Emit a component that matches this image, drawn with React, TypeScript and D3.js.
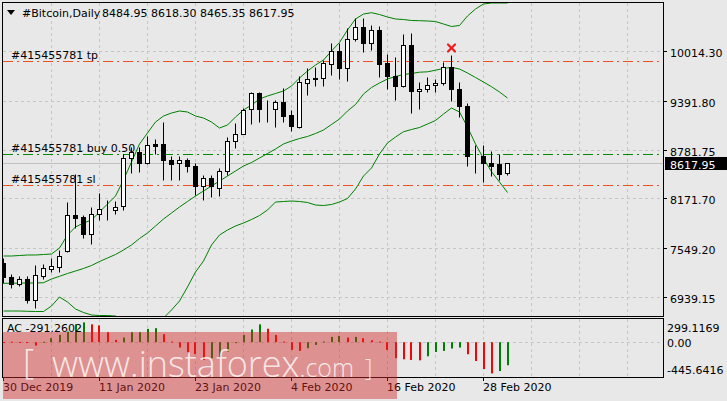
import React from 'react';
import * as d3 from 'd3';

const opens = [7372.1, 7193.7, 7110.1, 7168.7, 6910.5, 7209.9, 7293.5, 7318.4, 7518.1, 7967.1, 7942.1, 7725.1, 7974.6, 8042.0, 8033.2, 8074.4, 8673.2, 8756.8, 8615.8, 8856.6, 8856.6, 8657.0, 8615.8, 8657.0, 8582.1, 8323.9, 8432.4, 8307.7, 8516.0, 8890.3, 8981.3, 9289.5, 9489.1, 9289.5, 9289.5, 9380.5, 9214.6, 9064.9, 9613.8, 9679.9, 9671.2, 9845.9, 10004.3, 9796.0, 10162.7, 10312.4, 10112.8, 10278.7, 9854.6, 9696.2, 9571.4, 10087.9, 9514.0, 9539.0, 9588.9, 9613.8, 9804.7, 9539.0, 9330.6, 8706.9, 8706.9, 8615.8, 8598.4, 8484.95];
const highs = [7434.4, 7234.8, 7201.2, 7201.2, 7343.4, 7350.9, 7434.4, 7525.5, 8133.0, 8482.3, 7967.1, 8066.9, 8241.6, 8149.3, 8141.8, 8719.4, 8815.4, 8815.4, 8956.4, 8915.2, 9131.0, 8706.9, 8698.2, 8673.2, 8615.8, 8466.1, 8466.1, 8548.5, 8940.2, 9114.8, 9297.0, 9505.3, 9505.3, 9405.5, 9405.5, 9546.5, 9280.7, 9696.2, 9796.0, 9804.7, 9895.8, 10112.8, 10112.8, 10295.0, 10419.7, 10428.4, 10337.4, 10328.6, 9979.3, 9938.2, 10220.1, 10237.6, 9621.3, 9688.7, 9655.0, 9879.5, 9954.4, 9621.3, 9364.3, 8840.4, 8840.4, 8765.5, 8731.8, 8618.30];
const lows = [7122.6, 7051.5, 7076.4, 6869.3, 6810.7, 7168.7, 7259.8, 7251.0, 7505.0, 7800.0, 7675.2, 7609.1, 7908.5, 7899.7, 7974.6, 8033.2, 8491.1, 8507.3, 8598.4, 8723.1, 8398.8, 8398.8, 8407.5, 8507.3, 8216.6, 8149.3, 8191.7, 8207.9, 8466.1, 8806.7, 8972.6, 9106.1, 9122.3, 9131.0, 9064.9, 9131.0, 9015.0, 9050.0, 9464.1, 9580.1, 9580.1, 9713.6, 9655.0, 9638.8, 10137.8, 9995.6, 10020.5, 9688.7, 9539.0, 9396.8, 9560.0, 9239.6, 9289.5, 9496.6, 9496.6, 9588.9, 9389.3, 9189.7, 8582.1, 8491.1, 8382.5, 8457.4, 8407.5, 8465.35];
const closes = [7185.0, 7101.4, 7168.7, 6901.8, 7218.6, 7301.0, 7325.9, 7459.4, 7967.1, 7933.4, 7725.1, 7974.6, 8042.0, 8038.2, 8066.9, 8673.2, 8756.8, 8615.8, 8840.4, 8831.6, 8648.3, 8598.4, 8657.0, 8573.4, 8323.9, 8432.4, 8323.9, 8516.0, 8890.3, 8981.3, 9268.3, 9489.1, 9289.5, 9293.2, 9371.8, 9197.2, 9072.4, 9630.0, 9663.7, 9663.7, 9854.6, 10004.3, 9796.0, 10162.7, 10312.4, 10112.8, 10278.7, 9845.9, 9696.2, 9571.4, 10087.9, 9514.0, 9539.0, 9588.9, 9613.8, 9813.4, 9539.0, 9321.9, 8698.2, 8703.1, 8615.8, 8582.1, 8473.6, 8617.95];

const bandUpper = [7459.4, 7459.4, 7465.6, 7471.9, 7471.9, 7478.1, 7484.3, 7559.2, 7721.4, 7821.2, 7871.1, 7908.5, 8008.3, 8108.1, 8207.9, 8407.5, 8632.0, 8856.6, 8993.8, 9131.0, 9205.9, 9243.3, 9268.3, 9255.8, 9205.9, 9180.9, 9131.0, 9056.2, 9093.6, 9193.4, 9280.7, 9343.1, 9418.0, 9455.4, 9486.6, 9517.8, 9580.1, 9679.9, 9767.3, 9842.1, 9904.5, 10016.8, 10122.8, 10278.7, 10416.0, 10478.3, 10494.6, 10472.1, 10440.9, 10416.0, 10409.7, 10397.3, 10394.8, 10391.0, 10384.8, 10353.6, 10322.4, 10334.9, 10453.4, 10540.7, 10603.1, 10615.6, 10615.6, 10615.6];
const bandMiddle = [7118.8, 7118.8, 7122.6, 7122.6, 7122.6, 7126.3, 7172.5, 7206.2, 7241.1, 7272.3, 7303.5, 7340.9, 7390.8, 7434.4, 7478.1, 7534.2, 7596.6, 7677.7, 7746.3, 7833.6, 7921.0, 7995.8, 8070.7, 8139.3, 8207.9, 8270.3, 8332.6, 8395.0, 8457.4, 8519.8, 8582.1, 8625.8, 8681.9, 8738.1, 8794.2, 8856.6, 8894.0, 8925.2, 8950.2, 8987.6, 9031.2, 9099.9, 9168.5, 9268.3, 9349.4, 9480.3, 9561.4, 9617.6, 9667.5, 9698.7, 9723.6, 9736.1, 9752.3, 9757.3, 9777.3, 9798.5, 9813.4, 9792.2, 9742.3, 9686.2, 9630.0, 9571.4, 9505.3, 9430.4];
const bandLower = [6773.3, 6773.3, 6773.3, 6769.5, 6767.0, 6767.0, 6835.6, 6947.9, 6885.5, 6798.2, 6754.6, 6723.4, 6717.1, 6717.1, 6710.9, 6661.0, 6586.1, 6523.8, 6511.3, 6561.2, 6685.9, 6785.7, 6898.0, 7072.7, 7259.8, 7397.0, 7596.6, 7721.4, 7783.7, 7833.6, 7871.1, 7914.7, 7964.6, 8033.2, 8133.0, 8139.3, 8145.5, 8139.3, 8126.8, 8095.6, 8089.4, 8101.9, 8133.0, 8176.7, 8295.2, 8457.4, 8557.2, 8731.8, 8869.1, 8943.9, 9010.0, 9037.5, 9062.4, 9106.1, 9149.8, 9230.8, 9305.7, 9255.8, 9068.7, 8856.6, 8675.7, 8511.1, 8382.5, 8251.6];

const acValues = [3, 6, 3, 2, -42, 5, 50, 92, 134, 225, 250, 225, 212, 126, 29, 59, 126, 126, 168, 177, 101, 8, -67, -126, -151, -223, -202, -194, -118, -10, 92, 160, 225, 170, 92, 8, -97, -110, -76, -34, 8, 67, 80, 59, 67, 50, 25, 8, -97, -202, -216, -224, -229, -178, -123, -110, -80, -68, -152, -237, -339, -394, -364, -291.2602];
const acRising = [0, 0, 0, 0, 0, 1, 1, 1, 1, 1, 1, 0, 0, 0, 0, 1, 1, 1, 1, 1, 0, 0, 0, 0, 0, 0, 1, 1, 1, 1, 1, 1, 1, 0, 0, 0, 0, 0, 1, 1, 1, 1, 1, 0, 1, 0, 0, 0, 0, 0, 0, 0, 0, 1, 1, 1, 1, 1, 0, 0, 0, 0, 1, 1];

const priceTicks = ['10014.30', '9391.80', '8781.75', '8171.70', '7549.20', '6939.15'];
const acTicks = ['299.1169', '0.00', '-445.6416'];
const dateLabels = ['30 Dec 2019', '11 Jan 2020', '23 Jan 2020', '4 Feb 2020', '16 Feb 2020', '28 Feb 2020'];
const dateBars = [0, 12, 24, 36, 48, 60];

const orderTicket = '#415455781';
const orderLevels = [
  { label: 'tp', price: 9888.3, color: '#f0501e' },
  { label: 'buy 0.50', price: 8728.1, color: '#008c00' },
  { label: 'sl', price: 8341.4, color: '#f0501e' },
];
const lastPrice = 8617.95;
const closeMarker = { bar: 56, price: 10054 };
const symbolTitle = '#Bitcoin,Daily';
const acName = 'AC';

export default function App() {
  const W = 727;
  const H = 401;
  const bg = '#e8e8e8';
  const font = "'DejaVu Sans', Verdana, sans-serif";
  const x = d3.scaleLinear().domain([0, 82.5]).range([3.5, 663.5]);
  const y = d3.scaleLinear().domain([6704.7, 10621.8]).range([316.5, 2.5]);
  const yAc = d3.scaleLinear().domain([-445.6416, 299.1169]).range([377.5, 318.5]);
  const snap = (v: number) => Math.round(v - 0.5) + 0.5;

  const gridBars = d3.range(6, 83, 6);
  const bandLine = d3.line<number>().x((_, i) => x(i)).y((d) => y(d));

  const fmt = (v: number) => v.toFixed(2);
  const lastIdx = opens.length - 1;
  const header = [opens[lastIdx], highs[lastIdx], lows[lastIdx], closes[lastIdx]].map(fmt).join(' ');

  const mx = x(closeMarker.bar);
  const my = y(closeMarker.price);

  return (
    <svg width={W} height={H} style={{ position: 'absolute', left: 0, top: 0, display: 'block' }} fontFamily={font}>
      <defs>
        <clipPath id="mainClip">
          <rect x={3} y={3} width={660} height={313} />
        </clipPath>
        <clipPath id="acClip">
          <rect x={3} y={319} width={660} height={58} />
        </clipPath>
      </defs>
      <rect x={0} y={0} width={W} height={H} fill={bg} />

      {/* vertical grid */}
      {gridBars.map((k) => (
        <g key={'vg' + k}>
          <line x1={x(k)} x2={x(k)} y1={3} y2={316} stroke="#c6c6c6" strokeDasharray="3,3" />
          <line x1={x(k)} x2={x(k)} y1={319} y2={377} stroke="#c6c6c6" strokeDasharray="3,3" />
        </g>
      ))}
      {/* horizontal grid */}
      {priceTicks.map((t) => (
        <line key={'hg' + t} x1={3} x2={663} y1={snap(y(+t))} y2={snap(y(+t))} stroke="#c6c6c6" strokeDasharray="3,3" />
      ))}
      <line x1={3} x2={663} y1={snap(yAc(0))} y2={snap(yAc(0))} stroke="#c6c6c6" strokeDasharray="3,3" />

      {/* current price line */}
      <line x1={3} x2={663} y1={snap(y(lastPrice))} y2={snap(y(lastPrice))} stroke="#c0c0c0" />

      <g clipPath="url(#mainClip)">
        {/* Bollinger bands */}
        <path d={bandLine(bandUpper) || ''} fill="none" stroke="#008000" strokeWidth={1} />
        <path d={bandLine(bandMiddle) || ''} fill="none" stroke="#008000" strokeWidth={1} />
        <path d={bandLine(bandLower) || ''} fill="none" stroke="#008000" strokeWidth={1} />

        {/* order lines */}
        {orderLevels.map((o) => (
          <line key={'ol' + o.label} x1={3} x2={663} y1={snap(y(o.price))} y2={snap(y(o.price))} stroke={o.color} strokeDasharray="10,4,2,4" />
        ))}

        {/* candles */}
        {opens.map((o, i) => {
          const c = closes[i];
          const cx = x(i);
          const top = snap(y(Math.max(o, c)));
          const bot = snap(y(Math.min(o, c)));
          const bull = c >= o;
          return (
            <g key={'c' + i}>
              <line x1={cx} x2={cx} y1={snap(y(highs[i]))} y2={snap(y(lows[i]))} stroke="#000" />
              <rect x={cx - 2} y={top} width={4} height={Math.max(bot - top, 0)} fill={bull ? '#fff' : '#000'} stroke="#000" />
            </g>
          );
        })}

        {/* closed order marker */}
        <g stroke="#ee1c1c" strokeWidth={2.2} strokeLinecap="round">
          <line x1={mx - 3.5} y1={my - 3.5} x2={mx + 3.5} y2={my + 3.5} />
          <line x1={mx - 3.5} y1={my + 3.5} x2={mx + 3.5} y2={my - 3.5} />
        </g>
      </g>

      {/* order labels */}
      {orderLevels.map((o) => (
        <text key={'lab' + o.label} x={11} y={snap(y(o.price)) - 3} fontSize={11} fill="#000">
          {orderTicket + ' ' + o.label}
        </text>
      ))}

      {/* AC histogram */}
      <g clipPath="url(#acClip)">
        {acValues.map((v, i) => {
          const y0 = yAc(0);
          const y1 = yAc(v);
          return (
            <rect
              key={'ac' + i}
              x={Math.round(x(i)) - 1}
              y={Math.min(y0, y1)}
              width={2}
              height={Math.max(Math.abs(y1 - y0), 1)}
              fill={acRising[i] ? '#008000' : '#ff0000'}
            />
          );
        })}
      </g>

      {/* frames */}
      <rect x={2.5} y={2.5} width={661} height={314} fill="none" stroke="#000" />
      <rect x={2.5} y={318.5} width={661} height={59} fill="none" stroke="#000" />

      {/* header */}
      <path d="M7,10 L15,10 L11,15 Z" fill="#000" />
      <text x={22} y={17} fontSize={11} fill="#000">{symbolTitle}</text>
      <text x={102} y={17} fontSize={11} fill="#000">{header}</text>

      <text x={7} y={332} fontSize={11} fill="#000">{acName + ' ' + acValues[lastIdx].toFixed(4)}</text>

      {/* right price axis */}
      {priceTicks.map((t) => (
        <g key={'pt' + t}>
          <line x1={663.5} x2={667} y1={snap(y(+t))} y2={snap(y(+t))} stroke="#000" />
          <text x={670} y={snap(y(+t)) + 5} fontSize={11} fill="#000">{t}</text>
        </g>
      ))}
      <rect x={665} y={snap(y(lastPrice)) - 6.5} width={62} height={13} fill="#000" />
      <text x={670} y={snap(y(lastPrice)) + 5} fontSize={11} fill="#fff">{fmt(lastPrice)}</text>

      {/* AC axis */}
      {acTicks.map((t, i) => (
        <text key={'at' + t} x={667} y={[332, 347, 374][i]} fontSize={11} fill="#000">{t}</text>
      ))}

      {/* date axis */}
      {dateBars.map((k, i) => (
        <g key={'d' + k}>
          <line x1={x(k)} x2={x(k)} y1={377.5} y2={381} stroke="#000" />
          <text x={x(k) - 0.5} y={391} fontSize={11} fill="#000">{dateLabels[i]}</text>
        </g>
      ))}

      {/* watermark */}
      <rect x={3} y={332} width={394} height={67} fill="rgba(210,40,40,0.45)" />
      <g fill="rgba(255,255,255,0.8)" fontFamily="'Open Sans', sans-serif" fontWeight={300}>
        <text x={23} y={374} fontSize={35}>[</text>
        <text x={52} y={377} fontSize={36}>
          www.instaforex<tspan fontSize={25}>.com</tspan>
        </text>
        <text x={365} y={376} fontSize={23}>]</text>
      </g>
    </svg>
  );
}
